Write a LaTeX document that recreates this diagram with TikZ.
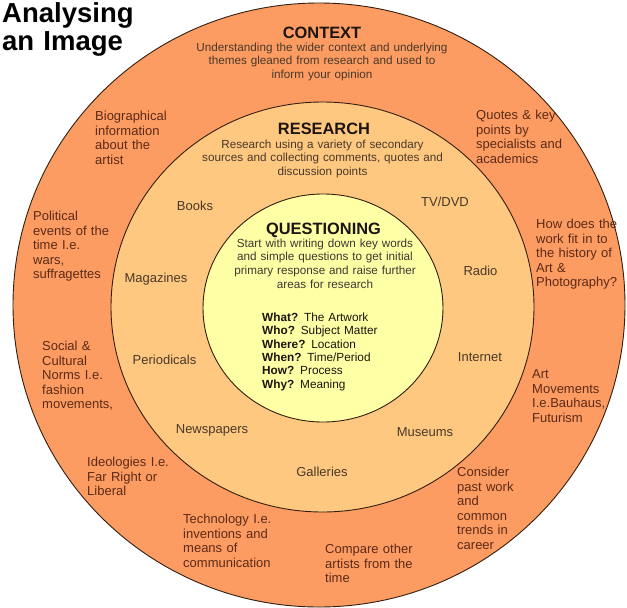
\documentclass[tikz,border=0pt]{standalone}
\usepackage{fontspec}
\setmainfont{Liberation Sans}
\usepackage{tikz}
\usetikzlibrary{shapes.geometric, positioning}
\definecolor{contextorange}{RGB}{252, 156, 98}
\definecolor{researchpeach}{RGB}{255, 200, 128}
\definecolor{questionyellow}{RGB}{255, 255, 165}
\definecolor{ringline}{RGB}{50, 30, 15}
\definecolor{outertext}{RGB}{92, 42, 22}
\definecolor{midtext}{RGB}{72, 56, 40}
\definecolor{headtext}{RGB}{28, 20, 14}

\begin{document}
\begin{tikzpicture}[x=1pt, y=-1pt,
    ring/.style={draw=ringline, line width=0.9pt},
    heading/.style={inner sep=0pt, anchor=base, text=headtext, font=\fontsize{16.4}{18}\selectfont\bfseries},
    blurb/.style={inner sep=0pt, anchor=base, text=midtext, align=center, text width=270pt,
                  font=\fontsize{11.7}{13.6}\selectfont},
    note/.style={inner sep=0pt, anchor=base west, text=outertext, align=left, text width=110pt,
                 font=\fontsize{13}{14.6}\selectfont},
    source/.style={inner sep=0pt, anchor=base, text=midtext, font=\fontsize{13}{15}\selectfont}]
    \useasboundingbox (0,0) rectangle (627,608);

    % the three rings
    \draw[ring, fill=contextorange] (319,305) ellipse [x radius=306, y radius=302];
    \draw[ring, fill=researchpeach] (322.5,307) ellipse [x radius=211.5, y radius=205];
    \draw[ring, fill=questionyellow] (323,308) ellipse [x radius=120, y radius=114];

    \node[inner sep=0pt, anchor=base west, align=left, text width=160pt, text=black,
          font=\fontsize{27.5}{28}\selectfont\bfseries] (imgtitle) at (2,22) {Analysing\\an Image};

    % context ring
    \node[heading] (ctxhead) at (322,38) {CONTEXT};
    \node[blurb] (ctxblurb) at (322,51.2) {Understanding the wider context and underlying\\
        themes gleaned from research and used to\\inform your opinion};
    \node[note] (bio) at (95,120.5) {Biographical\\information\\about the\\artist};
    \node[note] (politics) at (33,220.5) {Political\\events of the\\time I.e.\\wars,\\suffragettes};
    \node[note] (norms) at (42,350.5) {Social \&\\Cultural\\Norms I.e.\\fashion\\movements,};
    \node[note] (ideology) at (87,466.5) {Ideologies I.e.\\Far Right or\\Liberal};
    \node[note] (tech) at (183,523.5) {Technology I.e.\\inventions and\\means of\\communication};
    \node[note] (compare) at (325,553.5) {Compare other\\artists from the\\time};
    \node[note] (career) at (457,476.5) {Consider\\past work\\and\\common\\trends in\\career};
    \node[note] (movements) at (532,378.5) {Art\\Movements\\I.e.Bauhaus,\\Futurism};
    \node[note] (history) at (536,228.5) {How does the\\work fit in to\\the history of\\Art \&\\Photography?};
    \node[note] (quotes) at (476,119.5) {Quotes \& key\\points by\\specialists and\\academics};

    % research ring
    \node[heading] (reshead) at (324,134) {RESEARCH};
    \node[blurb] (resblurb) at (322.5,148.2) {Research using a variety of secondary\\
        sources and collecting comments, quotes and\\discussion points};
    \node[source] (books) at (195,210.5) {Books};
    \node[source] (tvdvd) at (445,206.5) {TV/DVD};
    \node[source] (magazines) at (156,282.5) {Magazines};
    \node[source] (radio) at (480.5,275.5) {Radio};
    \node[source] (periodicals) at (164.5,364.5) {Periodicals};
    \node[source] (internet) at (480,361.5) {Internet};
    \node[source] (newspapers) at (212,433.5) {Newspapers};
    \node[source] (museums) at (425,436.5) {Museums};
    \node[source] (galleries) at (322,476.5) {Galleries};

    % questioning core
    \node[heading] (qhead) at (323.5,234) {QUESTIONING};
    \node[blurb, text width=200pt, text=headtext!85] (qblurb) at (325,247.2) {Start with writing down key words\\
        and simple questions to get initial\\primary response and raise further\\areas for research};
    \node[inner sep=0pt, anchor=base west, align=left, text width=130pt, text=headtext,
          font=\fontsize{11.8}{13.4}\selectfont] (qlist) at (262,321.2) {\textbf{What?} The Artwork\\
        \textbf{Who?} Subject Matter\\\textbf{Where?} Location\\\textbf{When?} Time/Period\\
        \textbf{How?} Process\\\textbf{Why?} Meaning};
\end{tikzpicture}
\end{document}
